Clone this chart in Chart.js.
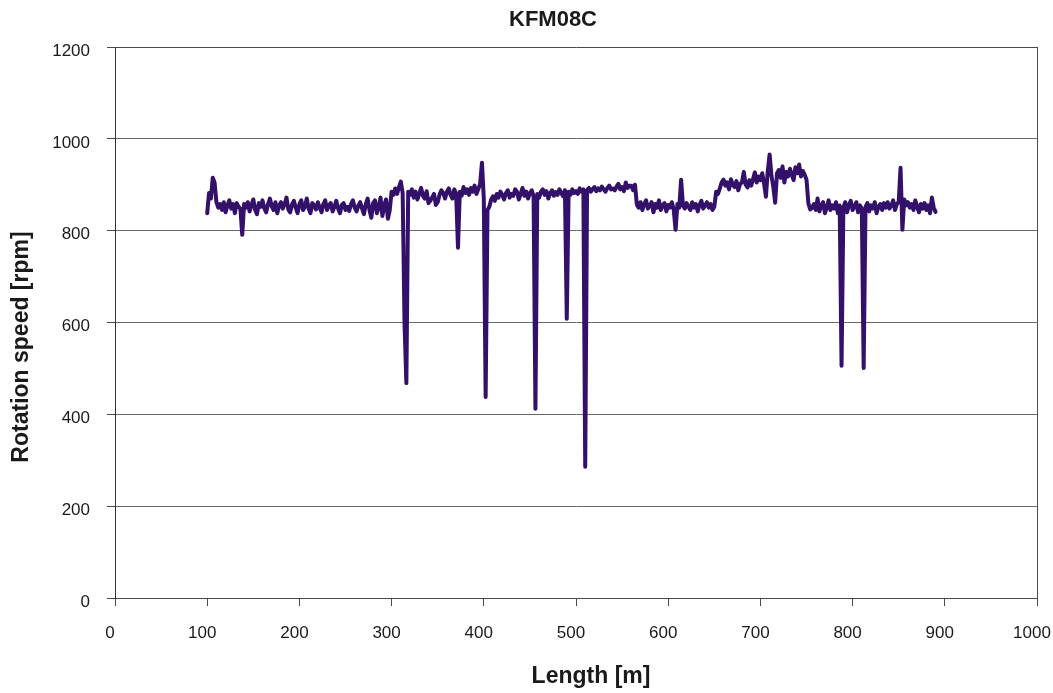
<!DOCTYPE html>
<html>
<head>
<meta charset="utf-8">
<title>KFM08C</title>
<script src="https://cdn.jsdelivr.net/npm/chart.js@4.4.1/dist/chart.umd.min.js"></script>
<style>
  html, body { margin: 0; padding: 0; background: #ffffff; }
  #chart { display: block; }
</style>
</head>
<body>
<canvas id="chart" width="1053" height="693"></canvas>
<script>
// Borehole KFM08C: drill rotation speed logged every 2 m along the hole.
const chartTitle = 'KFM08C';
const xAxisTitle = 'Length [m]';
const yAxisTitle = 'Rotation speed [rpm]';

const lengthStartM = 100;
const lengthStepM = 2;

const rotationSpeed = [
  838, 882, 870, 915, 905, 862, 850, 858, 845, 862,   // 100 m
  840, 855, 866, 848, 858, 838, 860, 852, 848, 791,   // 120 m
  858, 850, 862, 842, 856, 868, 845, 836, 860, 852,   // 140 m
  866, 848, 840, 858, 870, 853, 845, 862, 838, 855,   // 160 m
  862, 848, 858, 872, 846, 840, 857, 865, 850, 838,   // 180 m
  858, 866, 845, 852, 870, 848, 838, 860, 855, 846,   // 200 m
  862, 850, 840, 858, 866, 845, 855, 860, 842, 852,   // 220 m
  865, 848, 838, 856, 860, 845, 852, 843, 858, 866,   // 240 m
  850, 842, 855, 862, 848, 836, 858, 870, 845, 828,   // 260 m
  860, 866, 838, 850, 872, 832, 855, 868, 826, 845,   // 280 m
  885, 878, 892, 880, 895, 907, 882, 600, 468, 885,   // 300 m
  878, 890, 872, 885, 868, 880, 893, 876, 870, 886,   // 320 m
  860, 865, 872, 880, 856, 862, 878, 888, 882, 870,   // 340 m
  885, 892, 878, 870, 890, 880, 763, 885, 876, 895,   // 360 m
  882, 890, 878, 893, 885, 898, 880, 890, 902, 948,   // 380 m
  870, 438, 845, 852, 868, 875, 865, 880, 872, 885,   // 400 m
  878, 868, 882, 888, 872, 880, 876, 890, 885, 868,   // 420 m
  880, 893, 876, 885, 870, 882, 888, 875, 412, 880,   // 440 m
  872, 885, 890, 878, 886, 870, 882, 888, 876, 884,   // 460 m
  878, 890, 882, 875, 888, 608, 885, 878, 890, 882,   // 480 m
  886, 880, 892, 885, 890, 286, 888, 893, 885, 890,   // 500 m
  895, 886, 892, 888, 896, 890, 885, 893, 898, 890,   // 520 m
  892, 888, 896, 902, 890, 895, 886, 905, 893, 898,   // 540 m
  898, 888, 900, 857, 850, 862, 845, 858, 866, 848,   // 560 m
  855, 862, 840, 858, 850, 866, 845, 855, 860, 842,   // 580 m
  856, 850, 862, 845, 802, 858, 850, 911, 855, 848,   // 600 m
  860, 852, 845, 862, 850, 858, 842, 856, 865, 848,   // 620 m
  855, 862, 850, 858, 845, 852, 885, 880, 892, 905,   // 640 m
  911, 898, 905, 890, 912, 900, 895, 908, 888, 902,   // 660 m
  905, 928, 900, 894, 910, 898, 912, 927, 905, 918,   // 680 m
  910, 925, 902, 874, 930, 966, 920, 895, 861, 925,   // 700 m
  932, 915, 940, 905, 928, 918, 935, 922, 910, 938,   // 720 m
  925, 944, 918, 930, 922, 911, 860, 846, 850, 858,   // 740 m
  845, 870, 842, 855, 862, 838, 850, 866, 845, 855,   // 760 m
  848, 862, 838, 855, 506, 850, 862, 840, 856, 865,   // 780 m
  845, 852, 862, 840, 855, 848, 501, 852, 860, 842,   // 800 m
  855, 848, 862, 838, 852, 858, 845, 860, 850, 862,   // 820 m
  848, 855, 866, 845, 858, 862, 937, 802, 868, 855,   // 840 m
  862, 850, 858, 845, 866, 852, 840, 858, 848, 860,   // 860 m
  845, 855, 838, 872, 850, 841                        // 880 m
];

const lengthM = rotationSpeed.map((_, i) => lengthStartM + i * lengthStepM);

const xTickRange = { min: 0, max: 1000, step: 100 };
const yTickRange = { min: 0, max: 1200, step: 200 };

const lineColor = '#33116b';
const axisDark = '#4a4a4a';
const gridGray = '#6a6a6a';
const fontFamily = '"Liberation Sans", Arial, sans-serif';
const tickFont = { family: fontFamily, size: 17 };

// Chart title and axis titles, placed on the canvas in fixed spots.
const titlesPlugin = {
  id: 'titles',
  afterDraw(chart) {
    const ctx = chart.ctx;
    ctx.save();
    ctx.fillStyle = '#1a1a1a';
    ctx.textAlign = 'center';
    ctx.textBaseline = 'alphabetic';
    ctx.font = 'bold 22px ' + fontFamily;
    ctx.fillText(chartTitle, 553, 26);
    ctx.font = 'bold 23px ' + fontFamily;
    ctx.fillText(xAxisTitle, 591, 683);
    ctx.translate(28, 347);
    ctx.rotate(-Math.PI / 2);
    ctx.fillText(yAxisTitle, 0, 0);
    ctx.restore();
  }
};

new Chart(document.getElementById('chart'), {
  type: 'line',
  data: {
    datasets: [{
      data: lengthM.map((x, i) => ({ x, y: rotationSpeed[i] })),
      borderColor: lineColor,
      borderWidth: 4,
      borderCapStyle: 'round',
      borderJoinStyle: 'round',
      pointRadius: 0,
      tension: 0,
      fill: false
    }]
  },
  options: {
    responsive: false,
    animation: false,
    devicePixelRatio: 1,
    layout: { padding: { top: 47, right: 16, bottom: 0, left: 0 } },
    plugins: {
      legend: { display: false },
      title: { display: false },
      tooltip: { enabled: false }
    },
    scales: {
      x: {
        type: 'linear',
        min: xTickRange.min,
        max: xTickRange.max,
        ticks: {
          stepSize: xTickRange.step,
          color: '#1a1a1a',
          font: tickFont,
          padding: 17,
          labelOffset: -5,
          maxRotation: 0,
          callback: v => String(v)
        },
        grid: {
          color: c => (c.tick && c.tick.value === xTickRange.max) ? axisDark : 'rgba(0,0,0,0)',
          tickColor: axisDark,
          tickLength: 8,
          lineWidth: 1
        },
        border: { color: axisDark, width: 1 },
        afterFit: s => { s.height = 95; s.paddingLeft = 0; s.paddingRight = 0; }
      },
      y: {
        min: yTickRange.min,
        max: yTickRange.max,
        ticks: {
          stepSize: yTickRange.step,
          color: '#1a1a1a',
          font: tickFont,
          padding: 17,
          labelOffset: 4,
          callback: v => String(v)
        },
        grid: {
          color: c => (c.tick && c.tick.value === yTickRange.max) ? axisDark : gridGray,
          tickColor: axisDark,
          tickLength: 8,
          lineWidth: 1
        },
        border: { color: '#333333', width: 1 },
        afterFit: s => { s.width = 115; s.paddingTop = 0; s.paddingBottom = 0; }
      }
    }
  },
  plugins: [titlesPlugin]
});
</script>
</body>
</html>
